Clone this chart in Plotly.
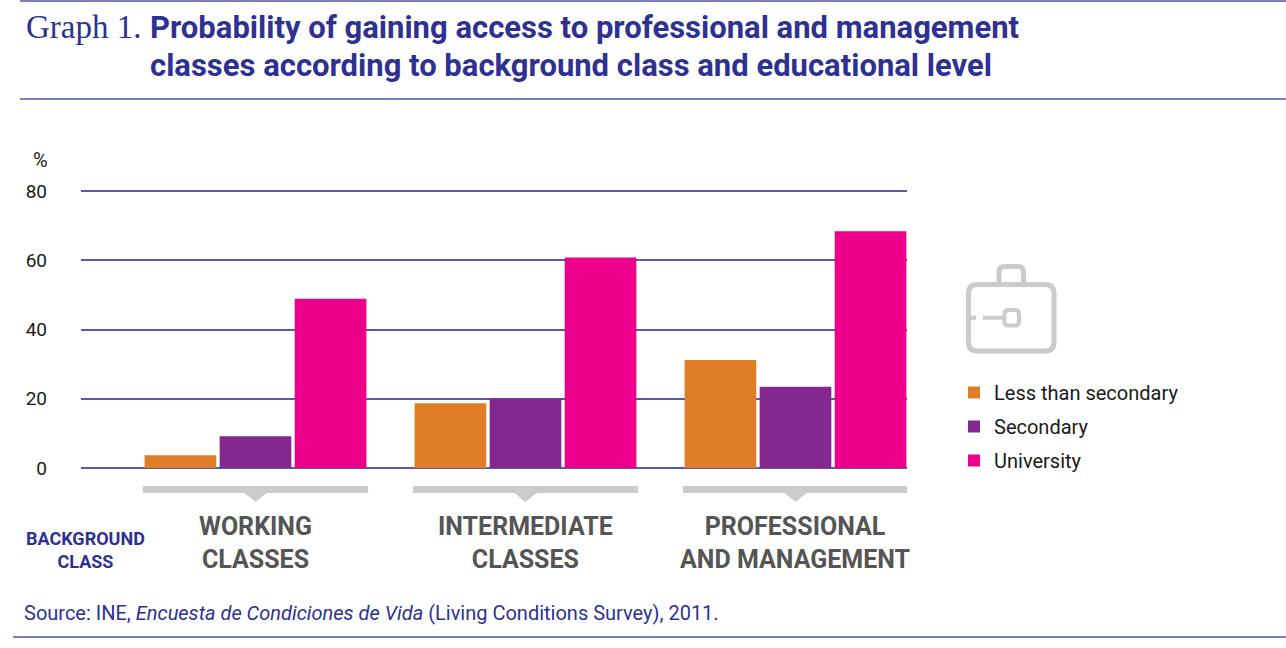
import plotly.graph_objects as go

# data
groups = [0, 1, 2]
class_labels = [
    "WORKING<br>CLASSES",
    "INTERMEDIATE<br>CLASSES",
    "PROFESSIONAL<br>AND MANAGEMENT",
]
series_names = ["Less than secondary", "Secondary", "University"]
less_than_secondary = [3.7, 18.7, 31.2]
secondary = [9.2, 20.1, 23.5]
university = [48.9, 60.8, 68.4]
y_ticks = [0, 20, 40, 60, 80]

colors = ["#e07e27", "#82288f", "#ec008b"]
NAVY = "#2e3192"
RULE = "#7e7cbd"
GRID = "#5c59a8"
ICON = "#cbcbcd"

W, H = 1286, 648
L, R, T, B = 81, 379, 189, 180
PW, PH = W - L - R, H - T - B
BARGAP = 0.166
Y_TOP = PH / 3.4625  # 20 units = 69.25 px in the reference


def fx(px):
    return (px - L) / PW


def fy(py):
    return (H - B - py) / PH


def pt(px, py):
    return f"{fx(px):.5f},{fy(py):.5f}"


def rounded_rect(x0, y0, x1, y1, r):
    return (
        f"M{pt(x0 + r, y0)} L{pt(x1 - r, y0)} Q{pt(x1, y0)} {pt(x1, y0 + r)} "
        f"L{pt(x1, y1 - r)} Q{pt(x1, y1)} {pt(x1 - r, y1)} "
        f"L{pt(x0 + r, y1)} Q{pt(x0, y1)} {pt(x0, y1 - r)} "
        f"L{pt(x0, y0 + r)} Q{pt(x0, y0)} {pt(x0 + r, y0)} Z"
    )


fig = go.Figure()
for name, vals, col in zip(series_names, [less_than_secondary, secondary, university], colors):
    fig.add_trace(
        go.Bar(
            x=groups,
            y=vals,
            name=name,
            legendgroup=name,
            marker=dict(color=col, line=dict(width=0)),
            hoverinfo="y+name",
        )
    )

shapes = []
annotations = []

# rules across the page
for y, x0 in [(1, 20), (99, 20), (637, 13)]:
    shapes.append(dict(type="line", xref="paper", yref="paper",
                       x0=fx(x0), x1=fx(W), y0=fy(y), y1=fy(y),
                       line=dict(color=RULE, width=2)))

# grey brackets under each group
half = (1 - BARGAP) / 2
tip = 0.041
for g in groups:
    a, b = fy(486), fy(493)
    path = (f"M{g - half},{a} L{g + half},{a} L{g + half},{b} L{g + tip},{b} "
            f"L{g},{fy(502)} L{g - tip},{b} L{g - half},{b} Z")
    shapes.append(dict(type="path", xref="x", yref="paper", path=path,
                       fillcolor=ICON, line=dict(width=0)))

# briefcase icon
shapes.append(dict(type="path", xref="paper", yref="paper",
                   path=rounded_rect(968.5, 284.5, 1054, 351, 9),
                   line=dict(color=ICON, width=5)))
shapes.append(dict(type="path", xref="paper", yref="paper",
                   path=(f"M{pt(999, 285)} L{pt(999, 272)} Q{pt(999, 266.5)} {pt(1005, 266.5)} "
                         f"L{pt(1017.5, 266.5)} Q{pt(1023.5, 266.5)} {pt(1023.5, 272)} L{pt(1023.5, 285)}"),
                   line=dict(color=ICON, width=5)))
shapes.append(dict(type="path", xref="paper", yref="paper",
                   path=rounded_rect(1004.5, 310, 1019, 325.5, 4),
                   line=dict(color=ICON, width=4)))
for x0, x1 in [(969, 976), (983, 1004)]:
    shapes.append(dict(type="line", xref="paper", yref="paper",
                       x0=fx(x0), x1=fx(x1), y0=fy(317.7), y1=fy(317.7),
                       line=dict(color=ICON, width=4)))


def text(s, px, py, size, color, family="Roboto", xanchor="left", bold=False, xref="paper", x=None):
    annotations.append(dict(
        text=f"<b>{s}</b>" if bold else s,
        xref=xref, yref="paper",
        x=fx(px) if x is None else x, y=fy(py),
        xanchor=xanchor, yanchor="middle", showarrow=False,
        font=dict(family=family, size=size, color=color),
    ))


# title
text("Graph 1.", 24, 27, 33, NAVY, family="Liberation Serif")
text("Probability of gaining access to professional and management", 148, 27, 31, NAVY, bold=True)
text("classes according to background class and educational level", 148, 65, 31, NAVY, bold=True)

# axis unit
text("%", 40, 160, 20, "#1a1a1a", xanchor="center")

# background class labels
text("BACKGROUND<br>CLASS", 85, 550, 18, NAVY, xanchor="center", bold=True)
for g, label in zip(groups, class_labels):
    text(label, 0, 543, 25, "#555555", xanchor="center", bold=True, xref="x", x=g)

# source
annotations.append(dict(
    text="Source: INE, <i>Encuesta de Condiciones de Vida</i> (Living Conditions Survey), 2011.",
    xref="paper", yref="paper", x=fx(22), y=fy(613), xanchor="left", yanchor="middle",
    showarrow=False, font=dict(family="Roboto", size=20, color=NAVY),
))

fig.update_layout(
    width=W,
    height=H,
    margin=dict(l=L, r=R, t=T, b=B, pad=0),
    paper_bgcolor="white",
    plot_bgcolor="white",
    barmode="group",
    bargap=BARGAP,
    bargroupgap=0.045,
    font=dict(family="Roboto", color="#1a1a1a"),
    shapes=shapes,
    annotations=annotations,
    legend=dict(
        x=fx(954), y=fy(373), xanchor="left", yanchor="top",
        font=dict(family="Roboto", size=20, color="#1a1a1a"),
        tracegroupgap=5, bgcolor="rgba(0,0,0,0)",
    ),
    showlegend=True,
)
fig.update_xaxes(range=[-0.6463, 2.413], showticklabels=False, showgrid=False,
                 zeroline=False, showline=False, fixedrange=True)
fig.update_yaxes(range=[0, Y_TOP], tickvals=y_ticks, showgrid=True, gridcolor=GRID,
                 gridwidth=2, zeroline=True, zerolinecolor=GRID, zerolinewidth=2,
                 showline=False, ticks="", ticklabelstandoff=33,
                 tickfont=dict(family="Roboto", size=19, color="#1a1a1a"), fixedrange=True)

# the page body has a default margin; drop it so the figure fills the window
fig.write_html("out.html", config={"displayModeBar": False},
               post_script="document.body.style.margin = '0';")
